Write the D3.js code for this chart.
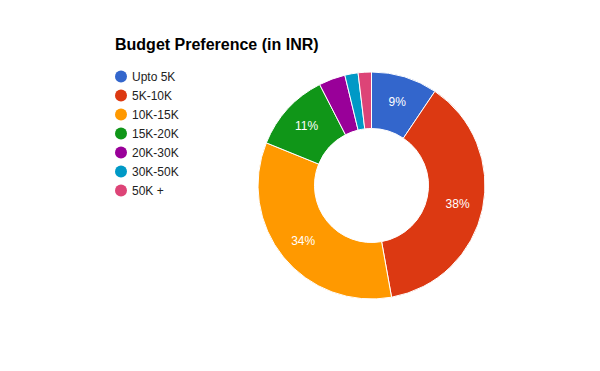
<!DOCTYPE html>
<html lang="en">
<head>
    <meta charset="UTF-8">
    <title>Budget Preference (in INR)</title>
    <script src="https://d3js.org/d3.v7.min.js"></script>
    <style>
        body {
            margin: 0;
            font-family: Arial, "Liberation Sans", sans-serif;
            background: #fff;
        }
        .chart-title {
            font-size: 16px;
            font-weight: bold;
            fill: #000;
        }
        .legend-label {
            font-size: 12px;
            fill: #222;
        }
        .slice-label {
            font-size: 12px;
            fill: #fff;
            text-anchor: middle;
        }
    </style>
</head>
<body>
    <svg id="donut"></svg>

    <script>
        // Data for the donut chart
        const categories = ["Upto 5K", "5K-10K", "10K-15K", "15K-20K", "20K-30K", "30K-50K", "50K +"];
        const responses = [5, 20, 18, 6, 2, 1, 1];
        const colors = ["#3366cc", "#dc3912", "#ff9900", "#109618", "#990099", "#0099c6", "#dd4477"];

        const width = 600;
        const height = 371;
        const cx = 371.5, cy = 185.5;
        const outerR = 113.5, innerR = 57;

        const svg = d3.select('#donut')
            .attr('width', width)
            .attr('height', height);

        // Title
        svg.append('text')
            .attr('class', 'chart-title')
            .attr('x', 115)
            .attr('y', 50)
            .text('Budget Preference (in INR)');

        // Legend
        const legend = svg.selectAll('.legend-item')
            .data(categories)
            .enter()
            .append('g')
            .attr('class', 'legend-item')
            .attr('transform', (d, i) => `translate(121,${76.5 + i * 19})`);

        legend.append('circle')
            .attr('r', 6)
            .attr('fill', (d, i) => colors[i]);

        legend.append('text')
            .attr('class', 'legend-label')
            .attr('x', 11)
            .attr('y', 4.5)
            .text(d => d);

        // Pie
        const total = d3.sum(responses);
        const pie = d3.pie().sort(null).value(d => d);
        const arcs = pie(responses);

        const arc = d3.arc().innerRadius(innerR).outerRadius(outerR);
        const labelArc = d3.arc().innerRadius(88).outerRadius(88);

        const g = svg.append('g').attr('transform', `translate(${cx},${cy})`);

        g.selectAll('path')
            .data(arcs)
            .enter()
            .append('path')
            .attr('d', arc)
            .attr('fill', (d, i) => colors[i])
            .attr('stroke', '#fff')
            .attr('stroke-width', 1);

        g.selectAll('.slice-label')
            .data(arcs.filter(d => d.value / total >= 0.05))
            .enter()
            .append('text')
            .attr('class', 'slice-label')
            .attr('transform', d => `translate(${labelArc.centroid(d)})`)
            .attr('dy', '0.35em')
            .text(d => Math.round(d.value / total * 100) + '%');
    </script>
</body>
</html>
